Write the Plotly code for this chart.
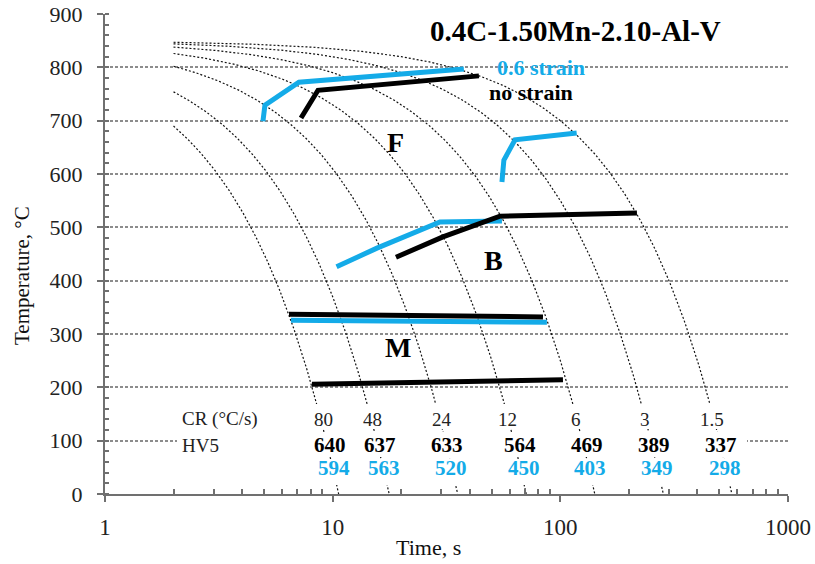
import numpy as np
import plotly.graph_objects as go

# ---------------- data ----------------
cooling_rates = [80, 48, 24, 12, 6, 3, 1.5]          # °C/s
start_temp = 850                                     # °C (cooling start)
cr_labels = ["80", "48", "24", "12", "6", "3", "1.5"]
hv_no_strain = ["640", "637", "633", "564", "469", "389", "337"]
hv_strain = ["594", "563", "520", "450", "403", "349", "298"]

# transformation lines (time s, temperature °C)
fs_strain_t = [4.94, 5.04, 7.11, 37.7]
fs_strain_T = [699, 729, 772, 797]
fs_nostrain_t = [7.26, 8.62, 43.9]
fs_nostrain_T = [705, 757, 784]
ff_strain_t = [55.4, 56.5, 63.2, 118]
ff_strain_T = [585, 626, 664, 677]
bs_strain_t = [10.4, 15.65, 29.6, 55.4]
bs_strain_T = [426, 461, 510, 512]
bs_nostrain_t = [18.97, 30.5, 54.3, 217]
bs_nostrain_T = [444, 482, 521, 527]
ms_nostrain_t = [6.43, 83.9]
ms_nostrain_T = [337, 332]
ms_strain_t = [6.56, 87.3]
ms_strain_T = [326, 322]
mf_nostrain_t = [8.11, 102.7]
mf_nostrain_T = [206, 214]

BLUE = "#14ABE8"
BLACK = "#000000"
SERIF = "Liberation Serif, Times New Roman, serif"

fig = go.Figure()

# cooling curves T = T0 - CR * t, drawn from t = 2 s to T = 0
for cr in cooling_rates:
    t = np.logspace(np.log10(2.0), np.log10(start_temp / cr), 300)
    T = start_temp - cr * t
    fig.add_trace(go.Scatter(x=t, y=T, mode="lines", hoverinfo="skip",
                             line=dict(color="#111111", width=1.2, dash="2px,2px"),
                             showlegend=False))

def thick(t, T, color):
    fig.add_trace(go.Scatter(x=t, y=T, mode="lines", showlegend=False,
                             line=dict(color=color, width=5)))

thick(fs_strain_t, fs_strain_T, BLUE)
thick(fs_nostrain_t, fs_nostrain_T, BLACK)
thick(ff_strain_t, ff_strain_T, BLUE)
thick(bs_strain_t, bs_strain_T, BLUE)
thick(bs_nostrain_t, bs_nostrain_T, BLACK)
thick(ms_strain_t, ms_strain_T, BLUE)
thick(ms_nostrain_t, ms_nostrain_T, BLACK)
thick(mf_nostrain_t, mf_nostrain_T, BLACK)

# ---------------- layout helpers (pixel -> paper) ----------------
L, R, TOP, B = 105, 27, 14, 70
W, H = 815, 564
PW, PH = W - L - R, H - TOP - B

def px(x):
    return (x - L) / PW

def py(y):
    return (H - B - y) / PH

annotations = []

def ann(text, x, y, size, color="black", bold=False, xanchor="center"):
    annotations.append(dict(
        text=f"<b>{text}</b>" if bold else text,
        x=px(x), y=py(y), xref="paper", yref="paper", showarrow=False,
        xanchor=xanchor, yanchor="middle",
        font=dict(family=SERIF, size=size, color=color)))

ann("0.4C-1.50Mn-2.10-Al-V", 575, 31, 29, bold=True)
ann("0.6 strain", 495, 67, 22, color=BLUE, bold=True, xanchor="left")
ann("no strain", 487, 93, 22, bold=True, xanchor="left")
ann("F", 395, 142, 28, bold=True)
ann("B", 493, 260, 28, bold=True)
ann("M", 398, 347, 28, bold=True)

ann("CR (°C/s)", 180, 419, 19, color="#222222", xanchor="left")
ann("HV5", 180, 445, 19, color="#222222", xanchor="left")

cr_x = [323, 372, 442, 507, 576, 645, 712]
hv_x = [330, 380, 447, 520, 587, 654, 721]
hvs_x = [334, 384, 451, 524, 590, 657, 725]
for i in range(len(cr_labels)):
    ann(cr_labels[i], cr_x[i], 419, 19, color="#222222")
    ann(hv_no_strain[i], hv_x[i], 445, 21, bold=True)
    ann(hv_strain[i], hvs_x[i], 468, 21, color=BLUE, bold=True)

# axis titles
ann("Time, s", 428, 547, 22, color="#111111")
annotations.append(dict(text="Temperature, °C", x=px(22), y=py(276), xref="paper", yref="paper",
                        showarrow=False, textangle=-90, xanchor="center", yanchor="middle",
                        font=dict(family=SERIF, size=21, color="#111111")))

# white text boxes hiding curves / gridline behind the bottom labels
shapes = []
for (y0, y1) in [(404, 429), (432, 457), (459, 485)]:
    shapes.append(dict(type="rect", xref="paper", yref="paper",
                       x0=px(177), x1=px(747), y0=py(y1), y1=py(y0),
                       fillcolor="white", line=dict(width=0), layer="above"))

x_minor = [m * d for d in (1, 10, 100) for m in range(2, 10)]

fig.update_layout(
    width=W, height=H,
    margin=dict(l=L, r=R, t=TOP, b=B, autoexpand=False),
    paper_bgcolor="white", plot_bgcolor="white",
    annotations=annotations, shapes=shapes,
    font=dict(family=SERIF, color="#222222"),
    xaxis=dict(type="log", range=[0, 3], tickmode="array", automargin=False,
               tickvals=[1, 10, 100, 1000], ticktext=["1", "10", "100", "1000"],
               showgrid=False, zeroline=False, showline=True, linecolor="#707070", linewidth=2,
               ticks="outside", ticklen=6, tickwidth=2, tickcolor="#707070",
               tickfont=dict(family=SERIF, size=23, color="#222222"), ticklabelstandoff=5,
               minor=dict(tickmode="array", tickvals=x_minor, ticks="inside",
                          ticklen=5, tickwidth=1.5, tickcolor="#707070", showgrid=False)),
    yaxis=dict(range=[0, 900], tickmode="linear", tick0=0, dtick=100, automargin=False,
               showgrid=True, gridcolor="#8c8c8c", gridwidth=1.6, griddash="3px,2px",
               zeroline=False, showline=True, linecolor="#707070", linewidth=2,
               ticks="outside", ticklen=6, tickwidth=2, tickcolor="#707070",
               tickfont=dict(family=SERIF, size=22, color="#222222"), ticklabelstandoff=10,
               minor=dict(dtick=20, ticks="inside", ticklen=4, tickwidth=1.5,
                          tickcolor="#707070", showgrid=False)),
)

fig.write_html("out.html")
